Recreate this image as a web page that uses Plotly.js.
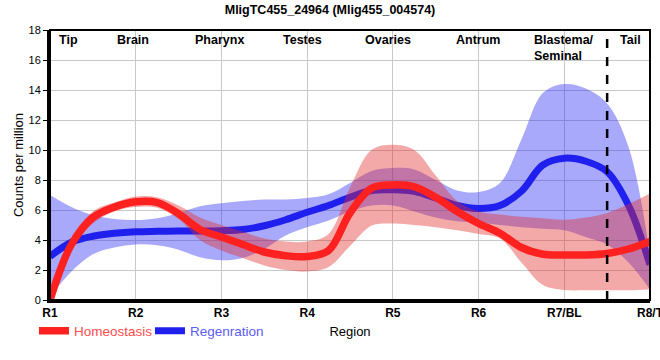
<!DOCTYPE html>
<html>
<head>
<meta charset="utf-8">
<script src="https://cdn.plot.ly/plotly-3.0.1.min.js"></script>
<style>html,body{margin:0;padding:0;background:#fff;}#chart{width:660px;height:360px;}</style>
</head>
<body>
<div id="chart"></div>
<script>
// Positions along the body (1 = R1 ... 8 = R8/T), read at quarter steps
var positions = [1, 1.25, 1.5, 1.75, 2, 2.25, 2.5, 2.75, 3, 3.25, 3.5, 3.75, 4, 4.25, 4.5, 4.75, 5, 5.25, 5.5, 5.75, 6, 6.25, 6.5, 6.75, 7, 7.25, 7.5, 7.75, 8];

var tickPositions = [1, 2, 3, 4, 5, 6, 7, 8];
var tickLabels = ['R1', 'R2', 'R3', 'R4', 'R5', 'R6', 'R7/BL', 'R8/T'];

var regionNames = ['Tip', 'Brain', 'Pharynx', 'Testes', 'Ovaries', 'Antrum', 'Blastema/<br>Seminal', 'Tail'];
var regionLabelPos = [1.21, 1.97, 2.98, 3.95, 4.94, 5.99, 7.0, 7.77];
var tailBoundary = 7.5;

// Homeostasis (red)
var homeoMean  = [0, 3.7, 5.5, 6.2, 6.55, 6.5, 5.75, 4.7, 4.2, 3.7, 3.2, 2.95, 2.9, 3.3, 5.8, 7.45, 7.67, 7.55, 6.85, 5.9, 5.1, 4.45, 3.5, 3.05, 3.0, 3.0, 3.1, 3.4, 3.9];
var homeoUpper = [0.3, 4.0, 5.9, 6.5, 6.9, 6.85, 6.3, 5.5, 5.0, 4.55, 4.1, 3.9, 3.9, 4.4, 7.5, 10.0, 10.35, 10.0, 8.3, 6.6, 5.9, 5.7, 5.55, 5.45, 5.35, 5.5, 5.8, 6.4, 7.1];
var homeoLower = [0, 3.4, 5.1, 5.9, 6.2, 6.15, 5.4, 4.0, 3.3, 2.8, 2.3, 2.0, 1.9, 2.2, 3.6, 4.95, 5.1, 5.0, 4.85, 4.65, 4.4, 4.1, 2.5, 1.0, 0.67, 0.65, 0.65, 0.65, 0.7];

// Regeneration (blue)
var regenMean  = [2.9, 3.85, 4.25, 4.45, 4.55, 4.58, 4.6, 4.6, 4.62, 4.7, 4.95, 5.35, 5.85, 6.3, 6.85, 7.3, 7.35, 7.25, 6.8, 6.3, 6.1, 6.3, 7.25, 9.0, 9.45, 9.25, 8.55, 6.3, 2.35];
var regenUpper = [7.0, 6.2, 5.65, 5.4, 5.33, 5.45, 5.8, 6.25, 6.45, 6.6, 6.7, 6.7, 6.8, 7.05, 7.8, 8.6, 8.8, 8.7, 8.0, 7.3, 7.2, 7.8, 10.7, 13.8, 14.4, 14.1, 13.1, 10.2, 3.0];
var regenLower = [0.2, 1.9, 3.05, 3.5, 3.7, 3.65, 3.35, 2.85, 2.65, 2.8, 3.4, 4.3, 4.85, 5.3, 5.9, 6.3, 6.3, 5.9, 5.5, 5.25, 5.15, 5.0, 4.85, 4.75, 4.65, 4.2, 3.7, 2.5, 0.7];

var FONT = 'Liberation Sans, Arial, sans-serif';
var sp = {shape: 'spline', smoothing: 1};

function band(lower, upper, fillcolor) {
  return [
    {x: positions, y: lower, mode: 'lines', line: Object.assign({width: 0, color: 'rgba(0,0,0,0)'}, sp), showlegend: false, hoverinfo: 'skip'},
    {x: positions, y: upper, mode: 'lines', fill: 'tonexty', fillcolor: fillcolor, line: Object.assign({width: 0, color: 'rgba(0,0,0,0)'}, sp), showlegend: false, hoverinfo: 'skip'}
  ];
}

var traces = [].concat(
  band(regenLower, regenUpper, 'rgba(40,40,245,0.40)'),
  [{x: positions, y: regenMean, mode: 'lines', name: '<span style="color:#5c5cf5">Regenration</span>',
    line: Object.assign({width: 7, color: '#2020ee'}, sp)}],
  band(homeoLower, homeoUpper, 'rgba(228,40,40,0.40)'),
  [{x: positions, y: homeoMean, mode: 'lines', name: '<span style="color:#ff4d4d">Homeostasis</span>',
    line: Object.assign({width: 7.5, color: '#ff2020'}, sp)}]
);

var annotations = regionNames.map(function (t, i) {
  return {x: regionLabelPos[i], xref: 'x', y: 1, yref: 'paper', yanchor: 'top', xanchor: 'center', yshift: -1,
    text: '<b>' + t + '</b>', showarrow: false, align: 'left', font: {family: FONT, size: 12.5, color: '#000'}};
});

var layout = {
  width: 660, height: 360,
  margin: {l: 50, r: 10, t: 30, b: 60},
  paper_bgcolor: '#fff', plot_bgcolor: '#fff',
  font: {family: FONT, color: '#000'},
  title: {text: '<b>MligTC455_24964 (Mlig455_004574)</b>', x: 0.5, xref: 'container', xanchor: 'center',
    y: 0.972, yref: 'container', yanchor: 'middle', font: {family: FONT, size: 12.5, color: '#000'}},
  xaxis: {
    range: [1, 8], tickvals: tickPositions, ticktext: tickLabels.map(function (t) { return '<b>' + t + '</b>'; }),
    showgrid: true, gridcolor: '#c8c8c8', gridwidth: 1, zeroline: false,
    showline: true, linecolor: '#000', linewidth: 3, ticks: '', ticklabeloverflow: 'allow',
    tickfont: {family: FONT, size: 12, color: '#000'},
    title: {text: 'Region', font: {family: FONT, size: 13, color: '#000'}, standoff: 8}
  },
  yaxis: {
    range: [0, 18], tickvals: [0, 2, 4, 6, 8, 10, 12, 14, 16, 18],
    showgrid: true, gridcolor: '#c8c8c8', gridwidth: 1, zeroline: false,
    showline: true, linecolor: '#000', linewidth: 3, ticks: 'outside', ticklen: 4, tickwidth: 1, tickcolor: '#000',
    tickfont: {family: FONT, size: 11, color: '#000'},
    title: {text: 'Counts per million', font: {family: FONT, size: 13, color: '#000'}, standoff: 2}
  },
  showlegend: true,
  legend: {orientation: 'h', traceorder: 'reversed', x: -0.0267, xanchor: 'left', y: -0.115, yanchor: 'middle',
    itemwidth: 30, entrywidth: 71, entrywidthmode: 'pixels',
    font: {family: FONT, size: 13.5}, bgcolor: 'rgba(0,0,0,0)'},
  shapes: [
    {type: 'line', xref: 'x', yref: 'paper', x0: tailBoundary, x1: tailBoundary, y0: 0, y1: 1,
      line: {color: '#000', width: 2.5, dash: 'dash'}},
    {type: 'rect', xref: 'paper', yref: 'paper', x0: 0, x1: 1, y0: 0, y1: 1, line: {color: '#000', width: 2}, layer: 'above'}
  ],
  annotations: annotations
};

Plotly.newPlot('chart', traces, layout, {displayModeBar: false, staticPlot: true});
</script>
</body>
</html>
